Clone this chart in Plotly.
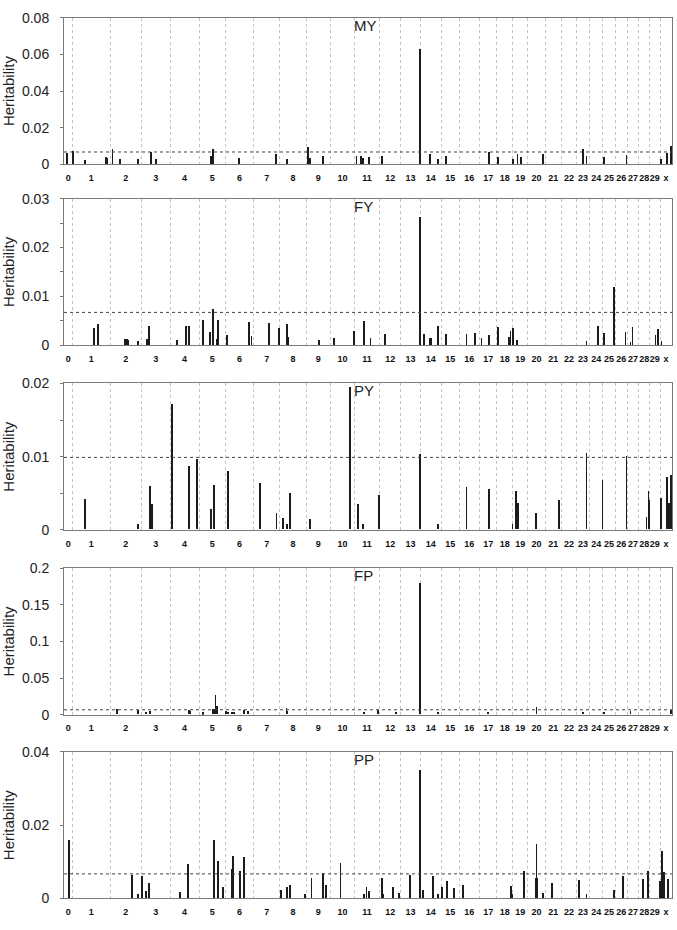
import plotly.graph_objects as go
from plotly.subplots import make_subplots

# ---------------- data ----------------
chrom_names = ["0"] + [str(i) for i in range(1, 30)] + ["x"]
chrom_len_mb = [35, 159, 131, 121, 121, 110, 120, 108, 113, 100, 102, 105, 89, 82, 88,
                76, 84, 74, 66, 64, 72, 68, 64, 55, 55, 53, 50, 48, 46, 44, 50]

traits = ["MY", "FY", "PY", "FP", "PP"]

# genome-wide cumulative position (Mb) and heritability of each window
my_pos = [11, 38, 88, 178, 181, 204, 235, 312, 365, 385, 616, 626, 736, 890, 938, 1026, 1034,
          1089, 1228, 1247, 1254, 1280, 1334, 1494, 1536, 1570, 1603, 1786, 1824, 1886, 1904,
          1918, 2012, 2178, 2194, 2267, 2362, 2507, 2533, 2550]
my_h = [0.0063, 0.0073, 0.0023, 0.0041, 0.0035, 0.0082, 0.0029, 0.0027, 0.0066, 0.0030,
        0.0046, 0.0082, 0.0036, 0.0057, 0.0029, 0.0095, 0.0036, 0.0048, 0.0048, 0.0048,
        0.0036, 0.0038, 0.0048, 0.0630, 0.0055, 0.0027, 0.0048, 0.0066, 0.0041, 0.0029,
        0.0055, 0.0041, 0.0055, 0.0082, 0.0048, 0.0041, 0.0054, 0.0027, 0.0064, 0.0100]

fy_pos = [126, 142, 255, 265, 270, 312, 347, 357, 476, 511, 525, 584, 612, 627, 641, 647,
          683, 776, 787, 861, 902, 935, 940, 1072, 1134, 1217, 1261, 1287, 1347, 1494, 1497,
          1513, 1536, 1541, 1570, 1604, 1690, 1726, 1753, 1786, 1822, 1868, 1875, 1887, 1903,
          2194, 2243, 2267, 2311, 2358, 2379, 2387, 2484, 2494, 2509]
fy_h = [0.0035, 0.0043, 0.0013, 0.0013, 0.0011, 0.0009, 0.0013, 0.0040, 0.0011, 0.0040,
        0.0039, 0.0053, 0.0028, 0.0075, 0.0013, 0.0053, 0.0022, 0.0048, 0.0020, 0.0046,
        0.0035, 0.0043, 0.0017, 0.0011, 0.0016, 0.0029, 0.0051, 0.0016, 0.0023, 0.0263,
        0.0017, 0.0023, 0.0015, 0.0016, 0.0040, 0.0023, 0.0023, 0.0026, 0.0015, 0.0021,
        0.0037, 0.0018, 0.0030, 0.0035, 0.0011, 0.0009, 0.0039, 0.0026, 0.0119, 0.0028,
        0.0008, 0.0037, 0.0021, 0.0033, 0.0009]

py_pos = [88, 312, 361, 371, 452, 525, 560, 616, 630, 690, 823, 892, 920, 938, 948, 1034,
          1202, 1234, 1257, 1323, 1494, 1570, 1690, 1785, 1883, 1897, 1905, 1982, 2079, 2194,
          2261, 2362, 2446, 2454, 2458, 2506, 2533, 2541, 2545, 2547, 2550]
py_h = [0.0042, 0.0007, 0.0060, 0.0035, 0.0171, 0.0086, 0.0096, 0.0028, 0.0061, 0.0080,
        0.0063, 0.0022, 0.0015, 0.0007, 0.0050, 0.0014, 0.0194, 0.0035, 0.0007, 0.0047,
        0.0103, 0.0007, 0.0058, 0.0055, 0.0008, 0.0052, 0.0036, 0.0023, 0.0040, 0.0105,
        0.0068, 0.0100, 0.0017, 0.0052, 0.0040, 0.0043, 0.0071, 0.0036, 0.0022, 0.0036,
        0.0075]

fp_pos = [224, 312, 343, 360, 525, 529, 584, 627, 631, 636, 644, 679, 688, 707, 715, 755,
          774, 934, 938, 1259, 1318, 1393, 1494, 1497, 1570, 1781, 1984, 2179, 2267, 2379,
          2548]
fp_h = [0.008, 0.006, 0.0036, 0.005, 0.0062, 0.005, 0.0027, 0.008, 0.008, 0.027, 0.0116,
        0.005, 0.0036, 0.0036, 0.0036, 0.0054, 0.005, 0.0085, 0.005, 0.0036, 0.006, 0.003,
        0.179, 0.005, 0.0036, 0.0036, 0.0103, 0.0036, 0.0036, 0.005, 0.0058]

pp_pos = [21, 287, 312, 328, 343, 357, 487, 521, 630, 631, 646, 667, 703, 709, 738, 755,
          911, 935, 938, 948, 1011, 1039, 1088, 1099, 1161, 1259, 1270, 1281, 1334, 1339,
          1382, 1407, 1453, 1494, 1507, 1550, 1570, 1588, 1609, 1637, 1676, 1876, 1882,
          1931, 1980, 1984, 1987, 2011, 2050, 2162, 2194, 2311, 2348, 2431, 2452, 2502,
          2510, 2512, 2521, 2537]
pp_h = [0.0161, 0.0065, 0.0013, 0.0060, 0.0021, 0.0043, 0.0018, 0.0093, 0.0013, 0.0159,
        0.0103, 0.0030, 0.0081, 0.0116, 0.0074, 0.0113, 0.0023, 0.0030, 0.0013, 0.0037,
        0.0013, 0.0057, 0.0069, 0.0036, 0.0097, 0.0013, 0.0030, 0.0020, 0.0055, 0.0011,
        0.0030, 0.0016, 0.0064, 0.0351, 0.0023, 0.0061, 0.0013, 0.0030, 0.0048, 0.0028,
        0.0037, 0.0033, 0.0011, 0.0076, 0.0057, 0.0149, 0.0057, 0.0016, 0.0041, 0.0051,
        0.0013, 0.0023, 0.0060, 0.0054, 0.0076, 0.0047, 0.0013, 0.0130, 0.0073, 0.0054]

thresholds = [0.0067, 0.0067, 0.0099, 0.0066, 0.0067]
y_max = [0.08, 0.03, 0.02, 0.2, 0.04]
y_dtick = [0.02, 0.01, 0.01, 0.05, 0.02]
y_minor = [None, 0.005, 0.005, None, None]

series_pos = [my_pos, fy_pos, py_pos, fp_pos, pp_pos]
series_h = [my_h, fy_h, py_h, fp_h, pp_h]

# ---------------- derived axis positions ----------------
bounds = [0]
for L in chrom_len_mb:
    bounds.append(bounds[-1] + L)
centers = [(bounds[i] + bounds[i + 1]) / 2 for i in range(len(chrom_len_mb))]
genome_end = bounds[-1]

# ---------------- figure ----------------
W, H = 677, 930
panel_px = [(10, 159), (194, 343), (382, 531), (570, 719), (757, 906)]

fig = make_subplots(rows=5, cols=1)
FONT = "Liberation Sans, Arial, sans-serif"

for i in range(5):
    r = i + 1
    fig.add_trace(go.Bar(x=series_pos[i], y=series_h[i], width=3.4,
                         marker=dict(color="#1c1c1c", line=dict(width=0)),
                         showlegend=False, hoverinfo="x+y"), row=r, col=1)
    top, bot = panel_px[i]
    dom = [1 - bot / H, 1 - top / H]
    yk = "yaxis" if r == 1 else f"yaxis{r}"
    xk = "xaxis" if r == 1 else f"xaxis{r}"
    ydict = dict(domain=dom, range=[0, y_max[i]], dtick=y_dtick[i], tick0=0,
                 showgrid=False, zeroline=False, showline=True, mirror=True,
                 linecolor="#7a7a7a", linewidth=1,
                 ticks="outside", ticklen=3, tickcolor="#7a7a7a",
                 ticklabelstandoff=8,
                 tickfont=dict(family=FONT, size=14, color="#222"),
                 title=dict(text="Heritability", font=dict(family=FONT, size=15, color="#222"),
                            standoff=8))
    if y_minor[i]:
        ydict["minor"] = dict(dtick=y_minor[i], tick0=0, ticks="outside", ticklen=3,
                              tickcolor="#7a7a7a", showgrid=False)
    xdict = dict(range=[0, genome_end], tickmode="array", tickvals=centers,
                 ticktext=chrom_names, ticks="", tickangle=0, showgrid=False, zeroline=False,
                 showline=True, mirror=True, linecolor="#7a7a7a", linewidth=1,
                 ticklabelstandoff=5, ticklabeloverflow="allow",
                 tickfont=dict(family=FONT, size=9, color="#111", weight="bold"),
                 minor=dict(tickmode="array", tickvals=bounds[1:-1], showgrid=True,
                            gridcolor="#c4c4c4", griddash="dot", gridwidth=1, ticks=""))
    fig.update_layout({yk: ydict, xk: xdict})
    xr = "x" if r == 1 else f"x{r}"
    yr = "y" if r == 1 else f"y{r}"
    fig.add_shape(type="line", xref=f"{xr} domain", yref=yr, x0=0, x1=1,
                  y0=thresholds[i], y1=thresholds[i],
                  line=dict(color="#444", width=1, dash="dot"), layer="above")
    fig.add_annotation(text=traits[i], xref="paper", yref="paper",
                       x=(352 - 64) / 608, y=1 - (top - 3) / H,
                       xanchor="left", yanchor="top", showarrow=False,
                       font=dict(family=FONT, size=15, color="#222"))

fig.update_layout(width=W, height=H, margin=dict(l=64, r=5, t=0, b=0),
                  paper_bgcolor="white", plot_bgcolor="white", bargap=0)

fig.write_html("out.html", config={"displayModeBar": False},
               post_script="document.body.style.margin='0';document.body.style.padding='0';")
